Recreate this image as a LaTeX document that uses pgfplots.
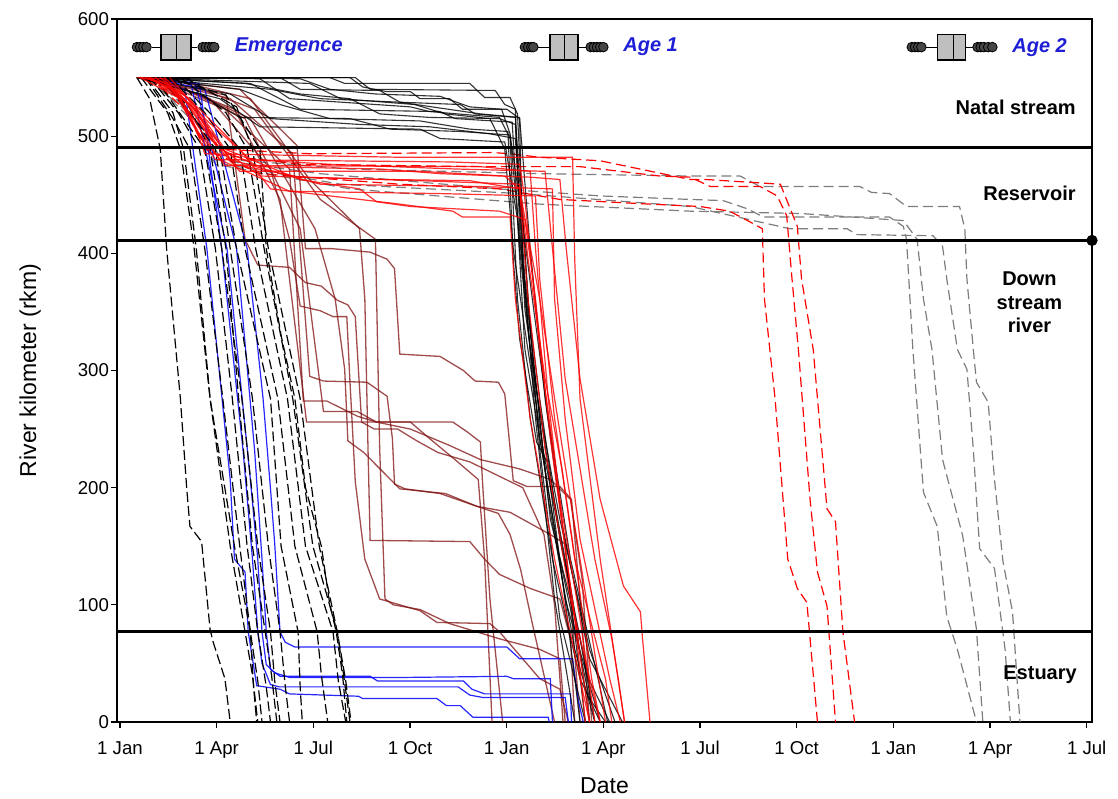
\documentclass[border=0pt]{standalone}
\usepackage{pgfplots}
\pgfplotsset{compat=1.18}
\usepgfplotslibrary{statistics}
\usepackage{fontspec}
\setmainfont{Liberation Sans}
\definecolor{brn}{RGB}{128,16,16}
\definecolor{lblblue}{RGB}{30,30,215}
\definecolor{gdash}{RGB}{125,125,125}
\pgfplotsset{
 trkbd/.style={black, line width=0.6pt, dash pattern=on 5pt off 2pt},
 trkbl/.style={color=blue, line width=0.6pt, opacity=0.85},
 trkbr/.style={color=brn, line width=0.65pt, opacity=0.75},
 trkbs/.style={black, line width=0.55pt, opacity=0.8},
 trkrs/.style={red, line width=0.6pt, opacity=0.8},
 trkrd/.style={red, line width=0.6pt, dash pattern=on 5pt off 2.5pt},
 trkgd/.style={color=gdash, line width=0.6pt, dash pattern=on 5pt off 2.5pt},
 outl/.style={only marks, mark=*, mark size=2.4pt, mark options={fill=gray!55!black, draw=black, line width=0.4pt}},
}
\begin{document}
\begin{tikzpicture}
\begin{axis}[name=ax, scale only axis, width=487.5pt, height=351.5pt,
 xmin=-2.8, xmax=917, ymin=0, ymax=600, clip=false,
 xtick={0,91.2,182.4,273.6,364.8,456,547.2,638.4,729.6,820.8,912},
 xticklabels={1 Jan,1 Apr,1 Jul,1 Oct,1 Jan,1 Apr,1 Jul,1 Oct,1 Jan,1 Apr,1 Jul},
 ytick={0,100,200,300,400,500,600},
 tick align=outside, tick pos=left, major tick length=3pt,
 tick style={black, line width=0.6pt},
 axis line style={line width=0.7pt},
 /pgf/number format/assume math mode=true,
 ticklabel style={font=\fontsize{9.3}{11}\selectfont},
 xticklabel style={text height=7pt, text depth=2pt, yshift=-2.5pt},
 yticklabel style={xshift=2.5pt},
 xlabel={Date}, ylabel={River kilometer (rkm)},
 label style={font=\fontsize{11.5}{14}\selectfont},
 xlabel style={at={(axis description cs:0.5,-0.09)}, anchor=center},
 ylabel style={at={(axis description cs:-0.089,0.5)}, anchor=center},
]
% gray dashed (age 2)
\addplot[trkgd] coordinates {(28,550)(66,515)(90,480)(189,468)(358,455)(453,449)(538,446)(569,445)(592,438)(607,431)(726,431)(739,423)(742,412)(748,318)(758,196)(771,167)(780,90)(790,62)(808,0)};
\addplot[trkgd] coordinates {(24,550)(61,523)(90,476)(217,455)(396,442)(538,436)(642,434)(739,428)(752,412)(758,361)(766,318)(776,224)(795,159)(808,79)(814,0)};
\addplot[trkgd] coordinates {(33,550)(71,515)(99,476)(208,459)(377,451)(538,440)(632,421)(686,421)(695,416)(767,415)(776,406)(780,378)(790,318)(799,301)(805,233)(811,148)(825,131)(835,62)(840,0)};
\addplot[trkgd] coordinates {(38,550)(75,519)(104,480)(217,472)(396,468)(538,466)(585,466)(604,457)(698,457)(709,452)(726,451)(742,440)(792,440)(797,421)(799,378)(805,318)(808,290)(819,273)(825,207)(833,137)(842,94)(849,0)};
% red dashed
\addplot[trkrd] coordinates {(24,550)(57,532)(80,489)(132,468)(264,459)(358,455)(415,446)(500,442)(547,440)(575,436)(594,427)(606,421)(608,361)(618,276)(630,139)(639,114)(648,102)(658,0)};
\addplot[trkrd] coordinates {(28,550)(61,523)(85,485)(170,476)(340,474)(434,474)(509,466)(538,465)(557,457)(604,457)(620,449)(629,432)(634,378)(640,318)(651,190)(658,128)(667,99)(675,0)};
\addplot[trkrd] coordinates {(33,550)(71,523)(94,489)(179,485)(352,486)(368,485)(396,482)(453,479)(538,463)(553,463)(623,459)(639,423)(643,378)(654,318)(667,182)(675,171)(682,77)(693,0)};
% brown
\addplot[trkbr] coordinates {(19,550)(113,540)(167,492)(175,404)(200,404)(236,401)(252,395)(259,387)(264,314)(302,312)(324,300)(335,291)(357,290)(363,280)(371,206)(384,201)(415,201)(426,190)(434,105)(443,0)};
\addplot[trkbr] coordinates {(24,550)(104,532)(163,485)(179,295)(192,291)(233,290)(252,278)(257,242)(259,203)(269,199)(302,195)(337,184)(368,179)(406,160)(420,152)(425,105)(434,0)};
\addplot[trkbr] coordinates {(28,550)(99,523)(160,472)(173,274)(195,274)(224,261)(242,256)(274,250)(311,236)(340,224)(377,216)(406,207)(425,190)(436,122)(445,0)};
\addplot[trkbr] coordinates {(33,550)(108,523)(151,446)(176,256)(314,256)(327,248)(340,239)(342,205)(349,105)(361,0)};
\addplot[trkbr] coordinates {(38,550)(118,515)(170,421)(192,265)(224,265)(242,256)(274,256)(292,242)(316,224)(338,207)(344,139)(351,0)};
\addplot[trkbr] coordinates {(42,550)(123,532)(179,463)(226,421)(231,361)(234,233)(236,155)(330,154)(344,139)(358,126)(387,114)(415,105)(425,71)(429,0)};
\addplot[trkbr] coordinates {(47,550)(127,523)(189,446)(241,412)(245,233)(250,105)(258,100)(283,96)(311,84)(358,71)(396,62)(415,54)(420,0)};
\addplot[trkbr] coordinates {(28,550)(85,532)(142,472)(160,412)(170,355)(189,351)(201,346)(214,346)(217,290)(222,205)(231,139)(245,105)(264,100)(283,95)(299,85)(349,84)(358,77)(396,37)(415,28)(423,0)};
\addplot[trkbr] coordinates {(38,550)(123,515)(184,421)(203,361)(212,301)(215,240)(230,230)(264,199)(307,195)(337,184)(357,178)(368,160)(378,130)(390,80)(400,40)(410,0)};
\addplot[trkbr] coordinates {(24,550)(100,535)(118,412)(130,390)(160,388)(175,375)(190,372)(205,360)(215,356)(222,346)(225,300)(228,256)(240,250)(262,250)(280,240)(300,230)(330,222)(380,200)(400,160)(410,100)(418,0)};
% blue
\addplot[trkbl] coordinates {(28,550)(80,540)(120,404)(135,276)(142,199)(146,152)(151,77)(156,68)(165,64)(365,64)(377,54)(427,54)(432,20)(437,0)};
\addplot[trkbl] coordinates {(24,550)(71,545)(110,404)(127,232)(134,139)(138,77)(142,45)(151,39)(236,39)(243,35)(324,35)(332,28)(344,24)(425,24)(426,0)};
\addplot[trkbl] coordinates {(19,550)(66,549)(101,404)(123,207)(130,139)(134,77)(138,49)(146,42)(160,38)(264,38)(365,39)(371,37)(406,37)(408,0)};
\addplot[trkbl] coordinates {(22,550)(61,540)(82,404)(104,207)(108,139)(118,128)(121,77)(129,31)(151,28)(160,24)(225,22)(229,20)(299,20)(308,14)(321,14)(333,4)(404,4)(405,0)};
\addplot[trkbl] coordinates {(26,550)(75,545)(96,404)(116,233)(125,139)(130,77)(134,50)(142,32)(150,30)(319,30)(330,23)(342,21)(420,21)(423,0)};
% black dashed (emergence)
\addplot[trkbd] coordinates {(16,550)(28,532)(38,489)(44,404)(57,276)(63,199)(66,167)(77,154)(85,79)(88,68)(99,37)(104,0)};
\addplot[trkbd] coordinates {(20,550)(45,520)(57,489)(70,404)(85,276)(104,150)(118,77)(125,40)(130,0)};
\addplot[trkbd] coordinates {(24,550)(50,515)(66,489)(80,404)(97,276)(113,150)(123,77)(130,35)(134,0)};
\addplot[trkbd] coordinates {(28,550)(55,520)(75,489)(90,404)(106,276)(120,150)(130,77)(138,30)(142,0)};
\addplot[trkbd] coordinates {(33,550)(60,515)(80,489)(96,404)(115,276)(130,150)(142,77)(146,35)(151,0)};
\addplot[trkbd] coordinates {(38,550)(65,520)(90,489)(104,404)(125,276)(140,150)(151,77)(156,30)(160,0)};
\addplot[trkbd] coordinates {(42,550)(70,515)(94,489)(110,404)(142,276)(152,150)(168,77)(170,30)(172,0)};
\addplot[trkbd] coordinates {(47,550)(80,520)(104,489)(118,404)(149,276)(165,150)(186,77)(190,40)(196,0)};
\addplot[trkbd] coordinates {(52,550)(90,515)(113,489)(128,404)(158,276)(175,150)(201,77)(206,35)(213,0)};
\addplot[trkbd] coordinates {(57,550)(100,520)(120,489)(136,404)(163,276)(182,150)(205,77)(211,40)(217,0)};
\addplot[trkbd] coordinates {(61,550)(110,525)(125,489)(140,404)(170,276)(188,150)(205,77)(213,35)(218,0)};
\addplot[trkbd] coordinates {(25,550)(50,520)(60,489)(72,404)(85,276)(108,150)(123,77)(126,30)(129,0)};
\addplot[trkbd] coordinates {(35,550)(65,525)(85,489)(100,404)(112,276)(125,150)(137,77)(143,40)(148,0)};
\addplot[trkbd] coordinates {(45,550)(100,535)(132,489)(138,404)(152,330)(165,276)(175,200)(190,150)(198,100)(204,77)(210,40)(214,0)};
% black solid (age 1 natal)
\addplot[trkbs] coordinates {(16,550)(217,550)(229,542)(252,538)(274,538)(283,532)(311,532)(323,523)(365,523)(377,515)(380,395)(392,259)(410,105)(429,0)};
\addplot[trkbs] coordinates {(16,550)(198,550)(212,545)(330,545)(344,533)(368,533)(375,519)(379,446)(385,361)(396,233)(415,88)(439,0)};
\addplot[trkbs] coordinates {(16,550)(151,550)(170,540)(245,539)(264,529)(321,527)(335,519)(373,516)(377,463)(387,335)(404,190)(429,62)(448,0)};
\addplot[trkbs] coordinates {(16,550)(132,549)(160,532)(274,525)(292,521)(358,516)(368,498)(375,361)(387,259)(408,139)(434,37)(453,0)};
\addplot[trkbs] coordinates {(16,550)(123,545)(170,523)(302,521)(316,515)(370,512)(377,404)(384,344)(396,242)(415,139)(443,20)(458,0)};
\addplot[trkbs] coordinates {(16,550)(113,540)(151,527)(198,515)(283,513)(330,506)(366,504)(371,395)(377,327)(393,239)(403,222)(423,82)(434,0)};
\addplot[trkbs] coordinates {(16,550)(104,536)(142,515)(226,510)(292,508)(349,502)(373,498)(382,378)(396,276)(415,156)(442,37)(462,0)};
\addplot[trkbs] coordinates {(16,550)(94,532)(132,508)(283,506)(302,498)(363,495)(375,429)(382,318)(401,216)(420,105)(453,0)};
\addplot[trkbs] coordinates {(16,550)(118,545)(170,536)(217,532)(245,519)(292,516)(358,515)(373,510)(382,352)(394,276)(415,173)(443,62)(467,0)};
\addplot[trkbs] coordinates {(16,550)(170,549)(198,540)(241,536)(302,534)(330,525)(360,523)(368,502)(377,412)(392,293)(406,173)(434,71)(448,0)};
\addplot[trkbs] coordinates {(16,550)(142,540)(189,532)(264,529)(340,519)(377,516)(387,404)(401,276)(418,165)(443,54)(474,0)};
\addplot[trkbs] coordinates {(16,550)(75,536)(113,516)(217,515)(255,506)(321,504)(368,501)(377,446)(389,361)(404,259)(425,139)(451,37)(460,0)};
\addplot[trkbs] coordinates {(16,550)(222,550)(236,540)(354,539)(363,527)(373,523)(377,421)(387,318)(406,207)(427,105)(443,0)};
\addplot[trkbs] coordinates {(16,550)(179,545)(208,532)(278,527)(307,519)(349,515)(363,489)(371,404)(382,335)(399,233)(423,122)(439,0)};
% red solid (age 1 reservoir)
\addplot[trkrs] coordinates {(16,550)(42,549)(66,519)(75,498)(80,485)(264,482)(427,482)(429,395)(434,276)(453,139)(476,0)};
\addplot[trkrs] coordinates {(19,550)(47,545)(71,506)(90,480)(311,478)(377,476)(382,446)(396,318)(415,190)(434,88)(448,0)};
\addplot[trkrs] coordinates {(24,550)(52,540)(75,502)(99,475)(340,474)(387,470)(392,404)(404,276)(420,148)(443,0)};
\addplot[trkrs] coordinates {(28,550)(57,536)(85,498)(113,470)(283,470)(363,466)(377,455)(385,361)(401,233)(425,105)(453,0)};
\addplot[trkrs] coordinates {(28,550)(61,532)(90,493)(132,466)(255,463)(330,462)(377,455)(396,361)(410,276)(434,139)(458,0)};
\addplot[trkrs] coordinates {(33,550)(66,532)(99,489)(170,463)(226,455)(242,444)(274,440)(358,436)(382,429)(392,361)(406,242)(429,88)(439,0)};
\addplot[trkrs] coordinates {(38,550)(71,523)(104,480)(189,459)(340,457)(408,455)(410,361)(420,259)(434,156)(462,37)(472,0)};
\addplot[trkrs] coordinates {(19,550)(57,532)(94,480)(160,453)(302,451)(392,449)(396,378)(410,259)(429,139)(458,37)(464,0)};
\addplot[trkrs] coordinates {(42,550)(75,523)(113,489)(142,455)(264,442)(314,436)(323,431)(368,431)(373,361)(387,259)(410,139)(434,37)(443,0)};
\addplot[trkrs] coordinates {(24,550)(61,536)(94,489)(132,474)(245,472)(302,468)(387,465)(415,463)(421,404)(434,293)(453,190)(475,116)(491,94)(493,71)(500,0)};
\addplot[trkrs] coordinates {(47,550)(80,515)(123,480)(198,476)(316,472)(401,470)(408,404)(420,293)(448,139)(464,71)(470,37)(476,0)};
\addplot[trkrs] coordinates {(28,550)(66,527)(108,476)(170,465)(283,462)(377,459)(385,395)(401,293)(417,216)(432,122)(445,37)(453,0)};
% habitat boundaries
\addplot[black, line width=1.5pt] coordinates {(-2.8,490)(917,490)};
\addplot[black, line width=1.5pt] coordinates {(-2.8,411)(917,411)};
\addplot[black, line width=1.5pt] coordinates {(-2.8,77)(917,77)};
\addplot[only marks, mark=*, mark size=2.6pt, black] coordinates {(917,411)};
% box plots
\addplot[draw=black, fill=gray!50, line width=0.6pt, boxplot prepared={lower whisker=30, lower quartile=38.7, median=53, upper quartile=67, upper whisker=72.6, draw direction=x, draw position=576, box extend=22, whisker extend=0}] coordinates {};
\addplot[draw=black, fill=gray!50, line width=0.6pt, boxplot prepared={lower whisker=394, lower quartile=405.7, median=419, upper quartile=432, upper whisker=440, draw direction=x, draw position=576, box extend=22, whisker extend=0}] coordinates {};
\addplot[draw=black, fill=gray!50, line width=0.6pt, boxplot prepared={lower whisker=760, lower quartile=771, median=786, upper quartile=798, upper whisker=805, draw direction=x, draw position=576, box extend=22, whisker extend=0}] coordinates {};
\addplot[outl] coordinates {(16,576)(19,576)(22,576)(25,576)(78,576)(81,576)(84,576)(87,576)(89,576)};
\addplot[outl] coordinates {(382,576)(385,576)(388,576)(390,576)(444,576)(447,576)(450,576)(453,576)(456,576)};
\addplot[outl] coordinates {(747,576)(750,576)(753,576)(756,576)(809,576)(812,576)(815,576)(819,576)(823,576)};
% labels
\node[anchor=west, inner sep=0pt, text=lblblue, font=\fontsize{10}{12}\selectfont\bfseries\itshape] at (axis cs:108,576) {Emergence};
\node[anchor=west, inner sep=0pt, text=lblblue, font=\fontsize{10}{12}\selectfont\bfseries\itshape] at (axis cs:474.5,576) {Age 1};
\node[anchor=west, inner sep=0pt, text=lblblue, font=\fontsize{10}{12}\selectfont\bfseries\itshape] at (axis cs:841.5,576) {Age 2};
\node[font=\fontsize{10}{12}\selectfont\bfseries] at (axis cs:845,525) {Natal stream};
\node[font=\fontsize{10}{12}\selectfont\bfseries] at (axis cs:858,451) {Reservoir};
\node[font=\fontsize{10}{11.75}\selectfont\bfseries, align=center] at (axis cs:858,358) {Down\\stream\\river};
\node[font=\fontsize{10}{12}\selectfont\bfseries] at (axis cs:868,40) {Estuary};
\end{axis}
\pgfresetboundingbox
\path[use as bounding box] ([shift={(-58.5pt,-38pt)}]ax.south west) rectangle ([shift={(13pt,9.5pt)}]ax.north east);
\end{tikzpicture}
\end{document}
